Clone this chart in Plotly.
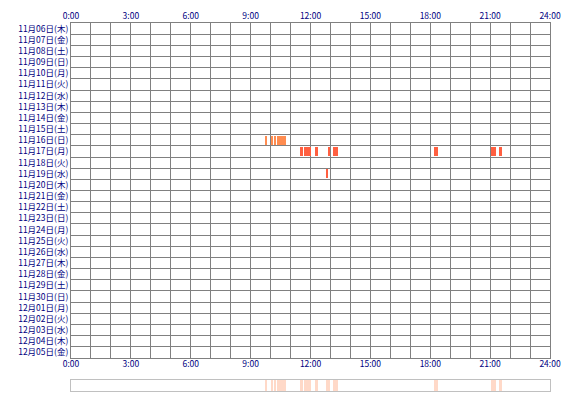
import datetime
import plotly.graph_objects as go

# rows: 11/06 .. 12/05
start_day = datetime.date(2025, 11, 6)
weekdays = ["月", "火", "水", "木", "金", "土", "日"]
days = [start_day + datetime.timedelta(days=i) for i in range(30)]
day_labels = [f"{d.month}月{d.day:02d}日({weekdays[d.weekday()]})" for d in days]

# activity segments: (row label index, start hour, end hour)
seg_row = [10, 10, 10, 10, 11, 11, 11, 11, 11, 11, 11, 11, 13]
seg_start = [9.75, 10.05, 10.22, 10.33, 11.45, 11.65, 12.25, 12.88, 13.15, 18.2, 21.05, 21.45, 12.78]
seg_end = [9.83, 10.13, 10.28, 10.78, 11.6, 12.02, 12.4, 13.0, 13.4, 18.4, 21.27, 21.6, 12.9]
seg_color = ["#ff8c50"] * 4 + ["#ff5f40"] * 9

hour_ticks = [0, 3, 6, 9, 12, 15, 18, 21, 24]
hour_labels = [f"{h}:00" for h in hour_ticks]

fig = go.Figure()
fig.add_trace(go.Bar(
    y=seg_row, x=[e - s for s, e in zip(seg_start, seg_end)], base=seg_start,
    orientation="h", width=0.85, marker=dict(color=seg_color, line_width=0),
    xaxis="x", yaxis="y", showlegend=False,
))
fig.add_trace(go.Bar(
    y=[0] * len(seg_start), x=[e - s for s, e in zip(seg_start, seg_end)], base=seg_start,
    orientation="h", width=1, marker=dict(color="#ffd9c8", line_width=0),
    xaxis="x3", yaxis="y2", showlegend=False,
))
# invisible trace so the bottom hour labels show
fig.add_trace(go.Scatter(x=[0], y=[0], xaxis="x2", yaxis="y", mode="markers",
                         marker=dict(opacity=0), showlegend=False, hoverinfo="skip"))

font = dict(family="Noto Sans CJK JP", size=8.5, color="#000080")
grid = "#808080"
fig.update_layout(
    width=570, height=400,
    margin=dict(l=63, r=28, t=15, b=17),
    paper_bgcolor="white", plot_bgcolor="white",
    font=font, bargap=0,
    xaxis=dict(range=[0, 24], side="top", tickvals=hour_ticks, ticktext=hour_labels,
               showgrid=False, automargin=False, ticklabelstandoff=0,
               minor=dict(dtick=1, tick0=0, showgrid=True, gridcolor=grid),
               showline=True, linecolor=grid, mirror=True, zeroline=False, ticks=""),
    xaxis2=dict(range=[0, 24], side="bottom", overlaying="x", anchor="y", automargin=False,
                tickvals=hour_ticks, ticktext=hour_labels, showgrid=False,
                ticks="", showline=False, zeroline=False),
    yaxis=dict(range=[29.5, -0.5], domain=[0.0897, 1], tickvals=list(range(30)),
               ticktext=day_labels, showgrid=False, zeroline=False, ticks="", automargin=False,
               minor=dict(tickvals=[i + 0.5 for i in range(-1, 30)], showgrid=True,
                          gridcolor=grid, gridwidth=1),
               showline=True, linecolor=grid, mirror=True),
    xaxis3=dict(range=[0, 24], anchor="y2", showticklabels=False, showgrid=False, automargin=False,
                zeroline=False, showline=True, linecolor="#c0c0c0", mirror=True, ticks=""),
    yaxis2=dict(range=[-0.5, 0.5], domain=[0, 0.03], showticklabels=False, showgrid=False,
                automargin=False, zeroline=False, showline=True, linecolor="#c0c0c0",
                mirror=True, ticks=""),
)

fig.write_html("out.html")
